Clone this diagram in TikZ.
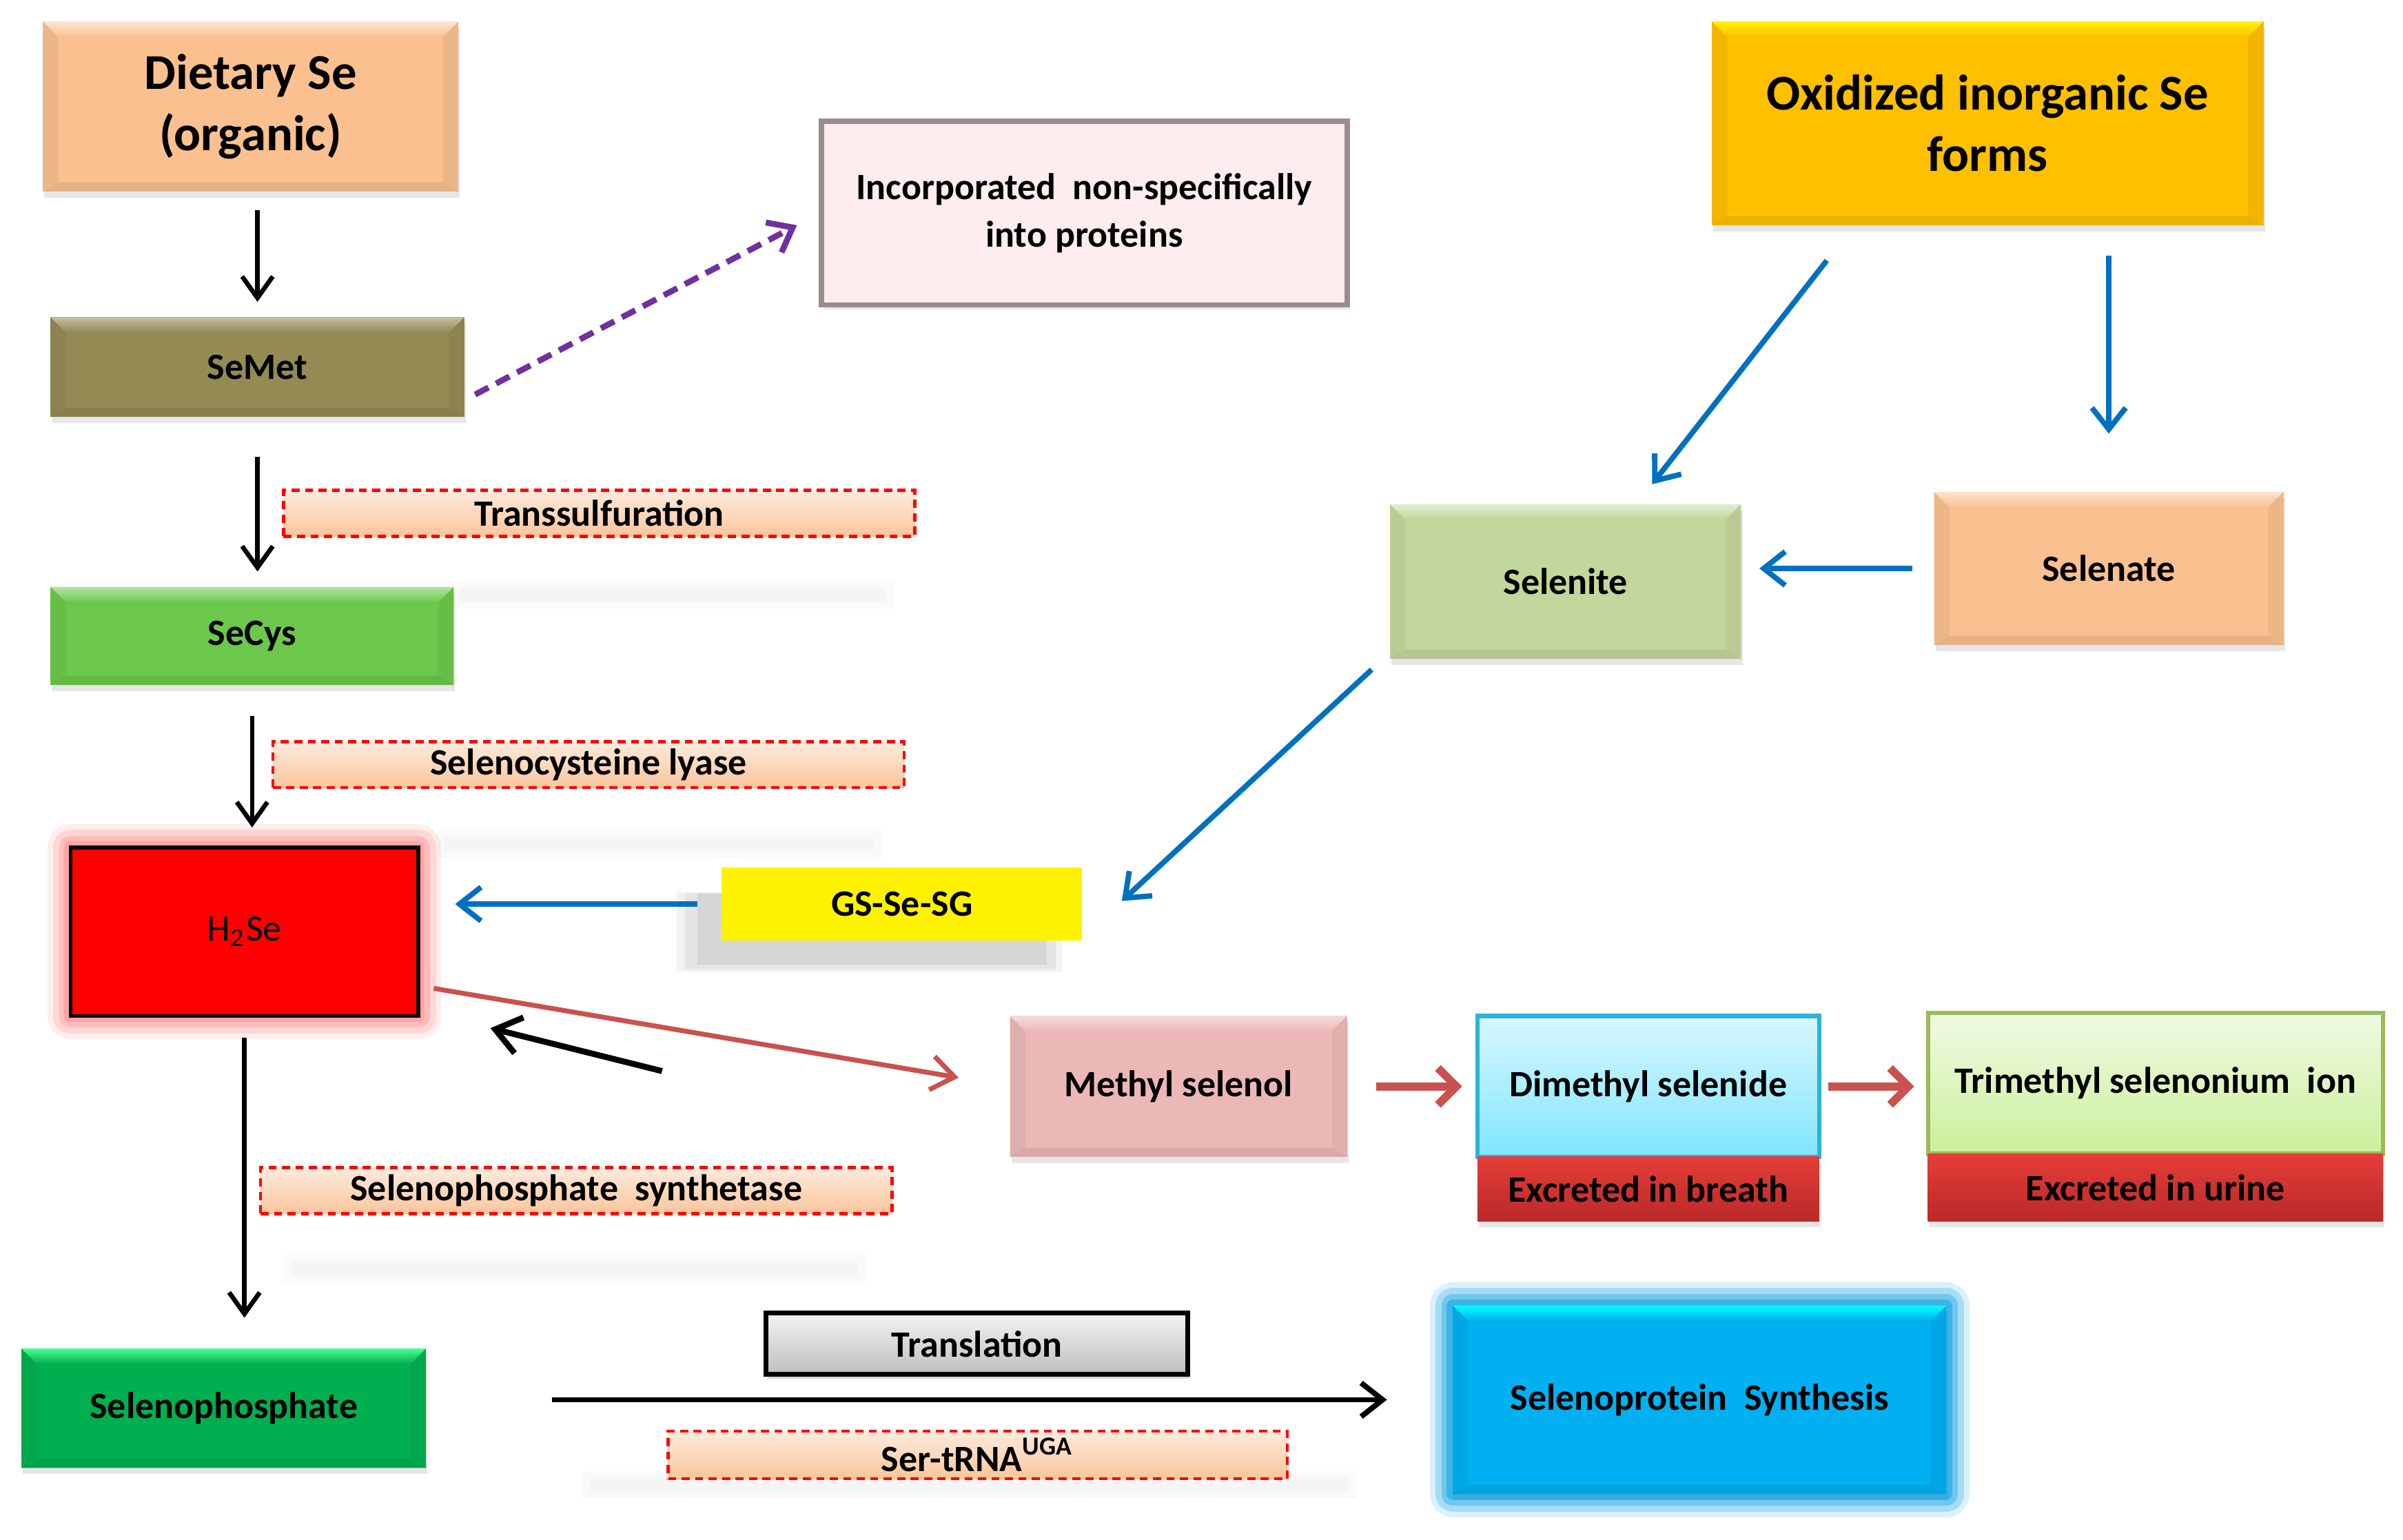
\documentclass[tikz,border=0pt]{standalone}
\usepackage{fontspec}
\setmainfont{Carlito}
\usepackage{tikz}
\usetikzlibrary{positioning,calc,shadows,arrows.meta}

\definecolor{peach}{HTML}{FAC090}
\definecolor{semetcol}{HTML}{948A54}
\definecolor{secyscol}{HTML}{6CC84A}
\definecolor{gold}{HTML}{FFC000}
\definecolor{selenitecol}{HTML}{C3D69B}
\definecolor{methylcol}{HTML}{EBB8B7}
\definecolor{sephoscol}{HTML}{00B050}
\definecolor{seprotcol}{HTML}{00B0F0}
\definecolor{arrblue}{HTML}{0070C0}
\definecolor{arrred}{HTML}{C9514E}
\definecolor{arrpurple}{HTML}{7030A0}
\definecolor{labtop}{HTML}{FDEBDD}
\definecolor{labbot}{HTML}{FAC59C}
\definecolor{excrtop}{HTML}{E63D38}
\definecolor{excrbot}{HTML}{BA2929}
\definecolor{dimtop}{HTML}{D8F6FF}
\definecolor{dimbot}{HTML}{80E6FF}
\definecolor{dimline}{HTML}{2BB3D8}
\definecolor{tritop}{HTML}{F0F9E4}
\definecolor{tribot}{HTML}{CBF09A}
\definecolor{triline}{HTML}{9BBB59}
\definecolor{incline}{HTML}{9A8C8E}
\definecolor{incfill}{HTML}{FDEDEE}

\tikzset{
  big/.style={font=\fontsize{9.3}{11.4}\selectfont\bfseries},
  txt/.style={font=\fontsize{6.9}{8.8}\selectfont\bfseries},
  sz/.style 2 args={minimum width=#1cm, minimum height=#2cm, inner sep=0pt, outer sep=0pt},
  bevel/.style 2 args={fill=#1, draw=none, align=center,
    drop shadow={shadow xshift=0.01cm,shadow yshift=-0.04cm,opacity=0.2},
    path picture={
      \fill[#1!95!black] (path picture bounding box.north west) -- ([shift={(0.1,-0.1)}]path picture bounding box.north west)
        -- ([shift={(0.1,0.06)}]path picture bounding box.south west) -- (path picture bounding box.south west) -- cycle;
      \fill[#1!95!black] (path picture bounding box.north east) -- ([shift={(-0.1,-0.1)}]path picture bounding box.north east)
        -- ([shift={(-0.1,0.06)}]path picture bounding box.south east) -- (path picture bounding box.south east) -- cycle;
      \fill[#1!92!black] (path picture bounding box.south west) -- (path picture bounding box.south east)
        -- ([shift={(-0.1,0.06)}]path picture bounding box.south east) -- ([shift={(0.1,0.06)}]path picture bounding box.south west) -- cycle;
      \shade[top color=#2, bottom color=#1] (path picture bounding box.north west) -- (path picture bounding box.north east)
        -- ([shift={(-0.1,-0.1)}]path picture bounding box.north east) -- ([shift={(0.1,-0.1)}]path picture bounding box.north west) -- cycle;
    }},
  glow/.style={preaction={draw=#1,line width=0.30cm,opacity=0.15,line join=round},
    preaction={draw=#1,line width=0.23cm,opacity=0.25,line join=round},
    preaction={draw=#1,line width=0.15cm,opacity=0.35,line join=round},
    preaction={draw=#1,line width=0.08cm,opacity=0.5,line join=round}},
  enzyme/.style={draw=red, line width=0.6pt, dash pattern=on 1.5pt off 1pt, top color=labtop, bottom color=labbot,
    sz={4.12}{0.30}, txt},
  excr/.style={top color=excrtop, bottom color=excrbot, txt,
    drop shadow={shadow xshift=0.01cm,shadow yshift=-0.04cm,opacity=0.2}},
  blkarr/.style={-{Straight Barb[length=1.4mm,width=2.0mm]}, line width=0.85pt},
  bluearr/.style={-{Straight Barb[length=1.4mm,width=2.2mm]}, line width=1pt, arrblue},
  redarr/.style={-{Straight Barb[length=1.2mm,width=2.4mm]}, line width=1.5pt, arrred},
}

\begin{document}
\begin{tikzpicture}
\useasboundingbox (0,0) rectangle (15.68,10.05);

% faint shadows left on the page
\foreach \xa/\xb/\yy in {3.00/5.78/6.17, 2.90/5.70/4.54, 1.90/5.60/1.77, 3.85/8.80/0.36}{
  \fill[black!2] (\xa-0.05,\yy-0.09) rectangle (\xb+0.05,\yy+0.09);
  \fill[black!4] (\xa,\yy-0.05) rectangle (\xb,\yy+0.05);
}

% organic side
\node[bevel={peach}{peach!40!white}, sz={2.71}{1.11}, big] (dietary) at (1.635,9.355) {Dietary Se\\(organic)};
\node[bevel={semetcol}{semetcol!55!white}, sz={2.70}{0.65}, txt] (semet) at (1.68,7.655) {SeMet};
\node[draw=incline, line width=1pt, fill=incfill, sz={3.43}{1.20}, txt, align=center,
  drop shadow={shadow xshift=0.02cm,shadow yshift=-0.03cm,opacity=0.2}] (incorp) at (7.075,8.66)
  {Incorporated~ non-specifically\\into proteins};
\node[bevel={secyscol}{secyscol!50!white}, sz={2.63}{0.64}, txt] (secys) at (1.645,5.90) {SeCys};
\node[enzyme] (transsulf) at (3.91,6.70) {Transsulfuration};
\node[enzyme] (lyase) at (3.84,5.06) {Selenocysteine lyase};
\node[fill=red, draw=black, line width=0.7pt, glow=red!45, sz={2.27}{1.10},
  font=\fontsize{6.9}{8.8}\selectfont] (h2se) at (1.595,3.97) {H\textsubscript{2}Se};
\node[fill=yellow, sz={2.35}{0.48}, txt,
  drop shadow={shadow xshift=-0.2cm,shadow yshift=-0.17cm,opacity=0.1,shadow scale=1.07},
  drop shadow={shadow xshift=-0.2cm,shadow yshift=-0.17cm,opacity=0.12,shadow scale=1.03},
  drop shadow={shadow xshift=-0.2cm,shadow yshift=-0.17cm,opacity=0.15,shadow scale=0.97}] (gssg) at (5.885,4.15) {GS-Se-SG};

% inorganic side
\node[bevel={gold}{yellow!85!gold}, sz={3.60}{1.33}, big] (oxid) at (12.97,9.245) {Oxidized inorganic Se\\forms};
\node[bevel={selenitecol}{selenitecol!45!white}, sz={2.29}{1.01}, txt] (selenite) at (10.215,6.255) {Selenite};
\node[bevel={peach}{peach!45!white}, sz={2.28}{1.00}, txt] (selenate) at (13.76,6.34) {Selenate};

% methylation
\node[bevel={methylcol}{methylcol!50!white}, sz={2.20}{0.92}, txt] (methyl) at (7.69,2.96) {Methyl selenol};
\node[top color=dimtop, bottom color=dimbot, draw=dimline, line width=0.8pt, sz={2.23}{0.92}, txt] (dimethyl) at (10.755,2.96) {Dimethyl selenide};
\node[excr, sz={2.23}{0.42}, below=0pt of dimethyl] (breath) {Excreted in breath};
\node[top color=tritop, bottom color=tribot, draw=triline, line width=0.8pt, sz={2.97}{0.92}, txt] (trimethyl) at (14.065,2.98) {Trimethyl selenonium~ ion};
\node[excr, sz={2.97}{0.44}, below=0pt of trimethyl] (urine) {Excreted in urine};

% selenoprotein branch
\node[enzyme] (synthetase) at (3.76,2.28) {Selenophosphate~ synthetase};
\node[bevel={sephoscol}{green!60!cyan!70}, sz={2.64}{0.78}, txt] (sephos) at (1.46,0.86) {Selenophosphate};
\node[draw=black, line width=0.9pt, top color=white!95!black, bottom color=black!25, sz={2.75}{0.40}, txt,
  drop shadow={shadow xshift=0.01cm,shadow yshift=-0.03cm,opacity=0.3}] (transl) at (6.375,1.28) {Translation};
\node[enzyme, sz={4.04}{0.31}] (sertrna) at (6.38,0.555) {Ser-tRNA\textsuperscript{UGA}};
\node[bevel={seprotcol}{cyan}, glow=cyan!60!seprotcol, sz={3.22}{1.23}, txt] (seprot) at (11.09,0.915) {Selenoprotein~ Synthesis};

% arrows
\draw[blkarr, shorten <=0.12cm, shorten >=0.10cm] (dietary.south -| semet.north) -- (semet.north);
\draw[blkarr, shorten <=0.26cm, shorten >=0.10cm] (semet.south) -- (semet.south |- secys.north);
\draw[blkarr, shorten <=0.20cm, shorten >=0.13cm] (secys.south) -- (secys.south |- h2se.north);
\draw[blkarr, shorten <=0.14cm, shorten >=0.20cm] (h2se.south) -- (h2se.south |- sephos.north);
\draw[-{Straight Barb[length=1.4mm,width=2.2mm]}, arrpurple, line width=1.1pt, dash pattern=on 2.8pt off 1.6pt]
  ($(semet.east)+(0.07,-0.18)$) -- ($(incorp.west)+(-0.16,-0.08)$);

\draw[bluearr] ($(oxid.south west)+(0.75,-0.23)$) -- ($(selenite.north east)+(-0.58,0.13)$);
\draw[bluearr, shorten <=0.20cm, shorten >=0.38cm] (selenate.north |- oxid.south) -- (selenate.north);
\draw[bluearr, shorten <=0.14cm, shorten >=0.12cm] (selenate.west) -- (selenate.west -| selenite.east);
\draw[bluearr] ($(selenite.south west)+(-0.12,-0.07)$) -- ($(gssg.east)+(0.26,0.02)$);
\draw[bluearr, shorten <=0.16cm, shorten >=0.24cm] (gssg.west) -- (gssg.west -| h2se.east);

\draw[-{Straight Barb[length=1.5mm,width=2.2mm]}, arrred, line width=0.9pt, shorten >=0.34cm]
  ($(h2se.east)+(0.10,-0.37)$) -- (methyl.west);
\coordinate (ret) at (4.32,3.06);
\draw[-{Straight Barb[length=1.6mm,width=2.4mm]}, line width=1.1pt] (ret) -- ($(h2se.south east)+(0.47,-0.08)$);
\draw[redarr, shorten <=0.19cm, shorten >=0.10cm] (methyl.east) -- (methyl.east -| dimethyl.west);
\draw[redarr, shorten <=0.06cm, shorten >=0.09cm] (dimethyl.east) -- (dimethyl.east -| trimethyl.west);

\draw[-{Straight Barb[length=1.4mm,width=2.2mm]}, line width=1pt, shorten <=0.82cm, shorten >=0.43cm]
  (seprot.west -| sephos.east) -- (seprot.west);
\end{tikzpicture}
\end{document}
